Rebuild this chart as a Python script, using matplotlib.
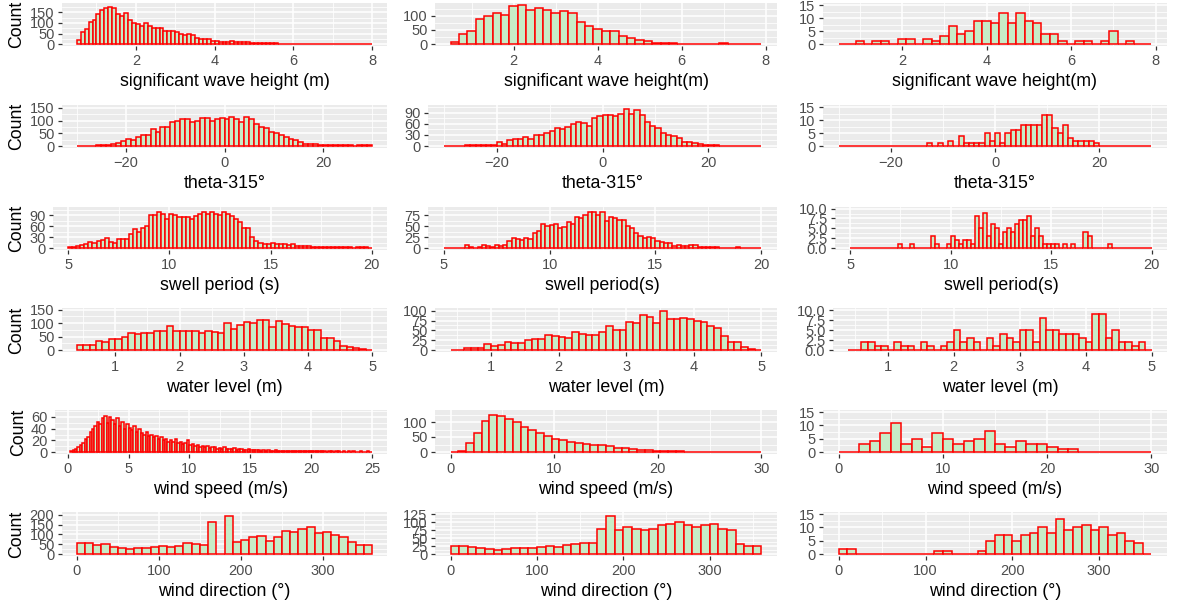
import matplotlib.pyplot as plt
from matplotlib.ticker import MultipleLocator, FormatStrFormatter
import numpy as np

plt.rcParams['font.family'] = ['Liberation Sans', 'DejaVu Sans']

W, H = 1179, 604
FILL = '#c7ecc7'

# ---- row 1: significant wave height ----
hs1_start, hs1_width = 0.5, 0.1
hs1 = [20, 55, 70, 105, 115, 145, 160, 172, 178, 172, 145, 135, 148, 115, 100,
       95, 88, 100, 85, 75, 75, 75, 62, 60, 60, 58, 50, 45, 50, 45,
       30, 25, 25, 22, 15, 15, 12, 12, 12, 14, 10, 8, 8, 10, 6,
       5, 5, 6, 5, 3, 3, 2, 2, 1, 1, 1, 0, 1, 0, 1,
       0, 0, 1, 0, 0, 0, 1, 0, 0, 0, 0, 1, 0, 0, 1]
hs2_start, hs2_width = 0.5, 0.2
hs2 = [8, 35, 45, 90, 98, 110, 105, 135, 140, 120, 128, 120, 112, 118, 112,
       80, 65, 52, 45, 45, 30, 22, 15, 10, 5, 3, 2, 1, 1, 1,
       0, 1, 3, 1, 0, 0, 0]
hs3_start, hs3_width = 0.5, 0.2
hs3 = [0, 0, 1, 0, 1, 1, 0, 2, 2, 0, 2, 1, 3, 7, 4, 5, 9, 9, 8, 12,
       8, 12, 9, 8, 4, 4, 1, 0, 1, 1, 0, 1, 5, 0, 1, 0, 0]

# ---- row 2: theta - 315 ----
th1_start, th1_width = -30, 1
th1 = [2, 2, 1, 2, 4, 5, 6, 8, 12, 20, 28, 22, 35, 45, 45, 65, 55, 75, 75, 95,
       100, 105, 105, 95, 100, 110, 110, 100, 105, 110, 108, 115, 108, 95, 115,
       105, 85, 75, 70, 55, 50, 45, 35, 28, 22, 15, 8, 8, 7, 5,
       3, 4, 5, 6, 4, 3, 2, 3, 4, 3]
th2_start, th2_width = -30, 1
th2 = [1, 1, 0, 1, 2, 2, 2, 2, 2, 2, 12, 5, 15, 18, 18, 25, 20, 30, 30, 35,
       42, 48, 47, 52, 60, 65, 62, 55, 75, 82, 85, 85, 82, 88, 100, 88, 98, 85,
       65, 55, 48, 35, 30, 27, 22, 12, 10, 7, 5, 3, 2, 2, 1, 1, 1, 1, 1, 0, 1, 1]
th3_start, th3_width = -30, 1
th3 = [0, 0, 0, 0, 0, 0, 0, 0, 0, 0, 0, 0, 0, 0, 0, 0, 0, 1, 0, 1,
       0, 2, 0, 4, 1, 1, 1, 1, 5, 2, 5, 1, 5, 6, 6, 8, 8, 8, 8, 12,
       12, 7, 5, 8, 3, 2, 2, 2, 2, 1, 0, 0, 0, 0, 0, 0, 0, 0, 0, 0]

# ---- row 3: swell period ----
tp1_start, tp1_width = 5, 0.2
tp1 = [2, 4, 5, 8, 12, 18, 15, 20, 22, 28, 18, 15, 25, 25, 25, 40, 52, 45, 55, 60,
       90, 90, 100, 95, 80, 95, 92, 85, 85, 85, 80, 88, 95, 100, 95, 98, 95, 90, 98, 95,
       88, 80, 72, 55, 55, 30, 20, 15, 12, 10, 15, 12, 12, 10, 8, 10, 6, 5, 6, 5,
       4, 3, 4, 3, 3, 2, 2, 3, 2, 2, 1, 2, 2, 2, 1]
tp2_start, tp2_width = 5, 0.2
tp2 = [1, 1, 1, 1, 1, 6, 2, 1, 2, 7, 5, 3, 8, 5, 6, 15, 22, 20, 18, 22,
       20, 35, 40, 55, 50, 52, 55, 45, 48, 60, 55, 70, 68, 75, 82, 82, 75, 82, 62, 72,
       68, 65, 65, 50, 45, 35, 28, 22, 25, 24, 15, 13, 12, 12, 5, 8, 5, 4, 8, 6,
       2, 2, 2, 3, 2, 1, 1, 1, 1, 2, 1, 1, 1, 1, 1]
tp3_start, tp3_width = 5, 0.2
tp3 = [0, 0, 0, 0, 0, 0, 0, 0, 0, 0, 0, 0, 1, 0, 0, 1, 0, 0, 0, 0,
       3, 1, 0, 0, 1, 3, 2, 1, 2, 2, 1, 8, 5, 9, 3, 6, 5, 1, 4, 5,
       4, 6, 7, 7, 8, 3, 5, 3, 1, 1, 1, 1, 0, 1, 0, 1, 0, 0, 4, 3,
       0, 0, 0, 0, 1, 0, 0, 0, 0, 0, 0, 0, 0, 0, 0]

# ---- row 4: water level ----
wl1_start, wl1_width = 0.4, 0.1
wl1 = [20, 18, 18, 35, 30, 42, 40, 50, 62, 60, 62, 62, 72, 70, 90, 72, 72, 70, 72, 65,
       70, 68, 65, 100, 78, 92, 105, 100, 110, 112, 85, 108, 95, 90, 85, 85, 75, 75, 45, 45,
       35, 15, 12, 8, 2, 1]
wl2_start, wl2_width = 0.4, 0.1
wl2 = [1, 0, 6, 6, 5, 15, 10, 12, 20, 18, 18, 25, 28, 28, 38, 35, 32, 30, 45, 42,
       38, 38, 45, 62, 50, 52, 72, 70, 88, 85, 70, 100, 80, 80, 82, 78, 75, 72, 60, 55,
       35, 20, 20, 8, 3, 1]
wl3_start, wl3_width = 0.4, 0.1
wl3 = [0, 0, 2, 2, 1, 1, 0, 2, 1, 1, 0, 2, 1, 0, 1, 2, 5, 2, 3, 2,
       0, 3, 1, 4, 3, 2, 5, 5, 2, 8, 5, 5, 4, 4, 4, 3, 2, 9, 9, 3,
       5, 2, 2, 1, 2, 0]

# ---- row 5: wind speed ----
ws1_start, ws1_width = 0.2, 0.2
ws1 = [2, 3, 5, 8, 12, 15, 22, 25, 35, 40, 45, 52, 48, 58, 62, 50, 60, 55, 48, 58,
       45, 52, 40, 48, 42, 38, 45, 35, 40, 32, 30, 35, 28, 30, 25, 28, 22, 25, 20, 22,
       18, 20, 17, 22, 15, 18, 14, 16, 20, 12, 14, 11, 12, 9, 11, 8, 10, 7, 9, 8,
       6, 7, 6, 8, 5, 6, 5, 7, 4, 6, 5, 4, 3, 5, 3, 4, 3, 3, 2, 3,
       2, 3, 2, 2, 3, 2, 2, 1, 2, 2, 1, 2, 1, 1, 2, 1, 1, 1, 2, 1,
       1, 1, 1, 1, 1, 0, 1, 1, 0, 1, 1, 0, 1, 0, 1, 0, 1, 0, 0, 1,
       0, 0, 1, 0]
ws2_start, ws2_width = 0.0, 0.75
ws2 = [0, 5, 30, 65, 105, 125, 120, 110, 100, 85, 75, 62, 55, 45, 40, 35, 30, 28, 25, 22,
       20, 15, 12, 10, 8, 6, 5, 4, 2, 2, 1, 1, 0, 0, 0, 0, 0, 0, 0, 0]
ws3_start, ws3_width = 0.0, 1
ws3 = [0, 0, 3, 4, 7, 11, 3, 5, 2, 7, 5, 3, 4, 5, 8, 3, 2, 4, 3, 3,
       2, 1, 1, 0, 0, 0, 0, 0, 0, 0]

# ---- row 6: wind direction ----
wd1_start, wd1_width = 0, 10
wd1 = [55, 55, 45, 50, 35, 30, 25, 30, 30, 35, 40, 35, 40, 55, 50, 45, 165, 0,
       195, 60, 70, 85, 90, 65, 85, 120, 115, 130, 140, 110, 115, 95, 85, 60, 45, 45]
wd2_start, wd2_width = 0, 10
wd2 = [25, 25, 22, 20, 15, 12, 15, 18, 18, 20, 22, 25, 22, 28, 30, 35, 35, 80,
       120, 75, 85, 80, 75, 80, 90, 95, 100, 90, 85, 90, 95, 80, 75, 30, 25, 25]
wd3_start, wd3_width = 0, 10
wd3 = [2, 2, 0, 0, 0, 0, 0, 0, 0, 0, 0, 1, 1, 0, 0, 0, 1, 5,
       7, 7, 5, 7, 8, 10, 8, 13, 9, 10, 11, 9, 10, 7, 8, 5, 4, 0]


def panel(rect, start, width, counts, xstep, ystep, xlabel, ytop=None,
          ylab=False, yfmt='%d'):
    l, t, r, b = rect
    ax = fig.add_axes([l / W, 1 - b / H, (r - l) / W, (b - t) / H])
    edges = start + width * np.arange(len(counts))
    ax.bar(edges, counts, width=width, align='edge', color=FILL,
           edgecolor='red', linewidth=1.1, zorder=3)
    lo, hi = start, start + width * len(counts)
    pad = 0.05 * (hi - lo)
    ax.set_xlim(lo - pad, hi + pad)
    if ytop is None:
        ytop = 1.05 * max(counts)
    ax.set_ylim(-ytop / 21, ytop)
    ax.set_facecolor('#EBEBEB')
    ax.xaxis.set_major_locator(MultipleLocator(xstep))
    ax.xaxis.set_minor_locator(MultipleLocator(xstep / 2))
    ax.yaxis.set_major_locator(MultipleLocator(ystep))
    ax.yaxis.set_minor_locator(MultipleLocator(ystep / 2))
    ax.yaxis.set_major_formatter(FormatStrFormatter(yfmt))
    ax.grid(which='major', color='white', linewidth=1.1, zorder=0)
    ax.grid(which='minor', color='white', linewidth=0.55, zorder=0)
    ax.set_axisbelow(True)
    for s in ax.spines.values():
        s.set_visible(False)
    ax.tick_params(which='major', length=3, width=0.9, color='#333333',
                   labelsize=10.5, labelcolor='#4D4D4D', pad=2.5)
    ax.tick_params(which='minor', length=0)
    ax.set_xlabel(xlabel, fontsize=12.8, labelpad=4)
    if ylab:
        ax.set_ylabel('Count', fontsize=12.8, labelpad=3)
    return ax


fig = plt.figure(figsize=(W / 100, H / 100), dpi=100)

rows = [(3, 46), (105, 148), (207, 250), (308, 352), (410, 454), (512, 556)]

# column 1
panel((62, rows[0][0], 387, rows[0][1]), hs1_start, hs1_width, hs1, 2, 50,
      'significant wave height (m)', 195, True)
panel((62, rows[1][0], 387, rows[1][1]), th1_start, th1_width, th1, 20, 50,
      'theta-315°', 161, True)
panel((53, rows[2][0], 387, rows[2][1]), tp1_start, tp1_width, tp1, 5, 30,
      'swell period (s)', 113, True)
panel((62, rows[3][0], 387, rows[3][1]), wl1_start, wl1_width, wl1, 1, 50,
      'water level (m)', 156, True)
panel((55, rows[4][0], 387, rows[4][1]), ws1_start, ws1_width, ws1, 5, 20,
      'wind speed (m/s)', 72, True)
panel((62, rows[5][0], 387, rows[5][1]), wd1_start, wd1_width, wd1, 100, 50,
      'wind direction (°)', 215, True)

# column 2
panel((435, rows[0][0], 777, rows[0][1]), hs2_start, hs2_width, hs2, 2, 50,
      'significant wave height(m)', 146)
panel((428, rows[1][0], 777, rows[1][1]), th2_start, th2_width, th2, 20, 30,
      'theta-315°', 111)
panel((428, rows[2][0], 777, rows[2][1]), tp2_start, tp2_width, tp2, 5, 25,
      'swell period(s)', 94)
panel((435, rows[3][0], 777, rows[3][1]), wl2_start, wl2_width, wl2, 1, 25,
      'water level (m)', 107)
panel((435, rows[4][0], 777, rows[4][1]), ws2_start, ws2_width, ws2, 10, 50,
      'wind speed (m/s)', 140)
panel((435, rows[5][0], 777, rows[5][1]), wd2_start, wd2_width, wd2, 100, 25,
      'wind direction (°)', 132)

# column 3
panel((823, rows[0][0], 1167, rows[0][1]), hs3_start, hs3_width, hs3, 2, 5,
      'significant wave height(m)', 15.9)
panel((823, rows[1][0], 1167, rows[1][1]), th3_start, th3_width, th3, 20, 5,
      'theta-315°', 15.8)
panel((835, rows[2][0], 1167, rows[2][1]), tp3_start, tp3_width, tp3, 5, 2.5,
      'swell period(s)', 10.4, yfmt='%.1f')
panel((833, rows[3][0], 1167, rows[3][1]), wl3_start, wl3_width, wl3, 1, 2.5,
      'water level (m)', 10.5, yfmt='%.1f')
panel((823, rows[4][0], 1167, rows[4][1]), ws3_start, ws3_width, ws3, 10, 5,
      'wind speed (m/s)', 15.8)
panel((823, rows[5][0], 1167, rows[5][1]), wd3_start, wd3_width, wd3, 100, 5,
      'wind direction (°)', 15.8)

fig.savefig('out.png', dpi=100)
